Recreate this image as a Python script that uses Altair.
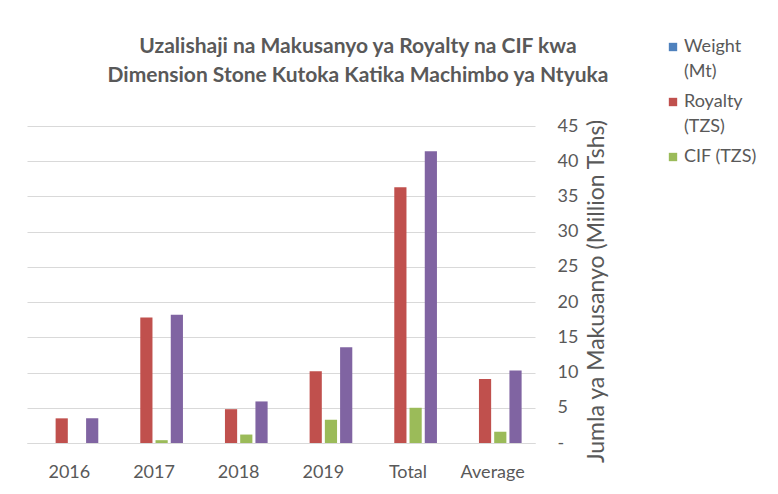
import altair as alt
import pandas as pd

categories = ["2016", "2017", "2018", "2019", "Total", "Average"]
series = ["Weight (Mt)", "Royalty (TZS)", "CIF (TZS)", "Jumla (TZS)"]
weight = [0, 0, 0, 0, 0, 0]
royalty = [3.5, 17.8, 4.8, 10.2, 36.3, 9.1]
cif = [0.0, 0.4, 1.2, 3.3, 5.0, 1.6]
jumla = [3.5, 18.2, 5.9, 13.6, 41.4, 10.3]
colors = ["#4F81BD", "#C0504D", "#9BBB59", "#8064A2"]
y_ticks = [0, 5, 10, 15, 20, 25, 30, 35, 40, 45]
title_lines = ["Uzalishaji na Makusanyo ya Royalty na CIF kwa",
               "Dimension Stone Kutoka Katika Machimbo ya Ntyuka"]

rows = []
for i, c in enumerate(categories):
    for s, vals in zip(series, [weight, royalty, cif, jumla]):
        rows.append({"cat": c, "series": s, "value": vals[i]})
df = pd.DataFrame(rows)

FONT = "Lato"
GREY = "#595959"

chart = alt.Chart(df).mark_bar().encode(
    x=alt.X("cat:N", sort=categories,
            scale=alt.Scale(paddingInner=0.28, paddingOuter=0.14),
            axis=alt.Axis(title=None, labelAngle=0, ticks=False, labelFontSize=18,
                          labelColor=GREY, labelPadding=20, domainColor="#d9d9d9",
                          labelFont=FONT)),
    xOffset=alt.XOffset("series:N", sort=series,
                        scale=alt.Scale(paddingInner=0.2, paddingOuter=0.1)),
    y=alt.Y("value:Q", scale=alt.Scale(domain=[0, 45]),
            axis=alt.Axis(orient="right", values=y_ticks, ticks=False, domain=False,
                          labelExpr="datum.value == 0 ? '-' : datum.label",
                          labelAlign="left", labelPadding=22, labelFontSize=18,
                          labelColor=GREY, labelFont=FONT,
                          gridColor="#d9d9d9", title="Jumla ya Makusanyo (Million Tshs)",
                          titleFont=FONT, titleFontSize=23, titleFontWeight="normal",
                          titleColor=GREY, titlePadding=8, titleAngle=270,
                          titleBaseline="top", titleY=165)),
    color=alt.Color("series:N", sort=series,
                    scale=alt.Scale(domain=series, range=colors),
                    legend=alt.Legend(values=series[:3], title=None, orient="none",
                                      legendX=637, legendY=-88, symbolType="square",
                                      symbolSize=70, symbolStrokeWidth=0,
                                      labelFont=FONT, labelFontSize=18, labelColor=GREY,
                                      labelOffset=2, rowPadding=12, padding=0,
                                      labelExpr="datum.label == 'CIF (TZS)' ? datum.label : split(datum.label, ' ')",
                                      labelLimit=200)),
).properties(
    width=508, height=317,
    title=alt.TitleParams(text=title_lines, font=FONT, fontSize=21, fontWeight="bold",
                          color=GREY, anchor="middle", dx=77, offset=-48, lineHeight=29),
    padding={"left": 19, "top": 118, "right": 235, "bottom": 43},
    autosize=alt.AutoSizeParams(type="none"),
).configure(style={"guide-label": {"lineHeight": 25}}).configure_view(stroke=None)

chart.save("out.html", embed_options={"renderer": "svg", "actions": False})
